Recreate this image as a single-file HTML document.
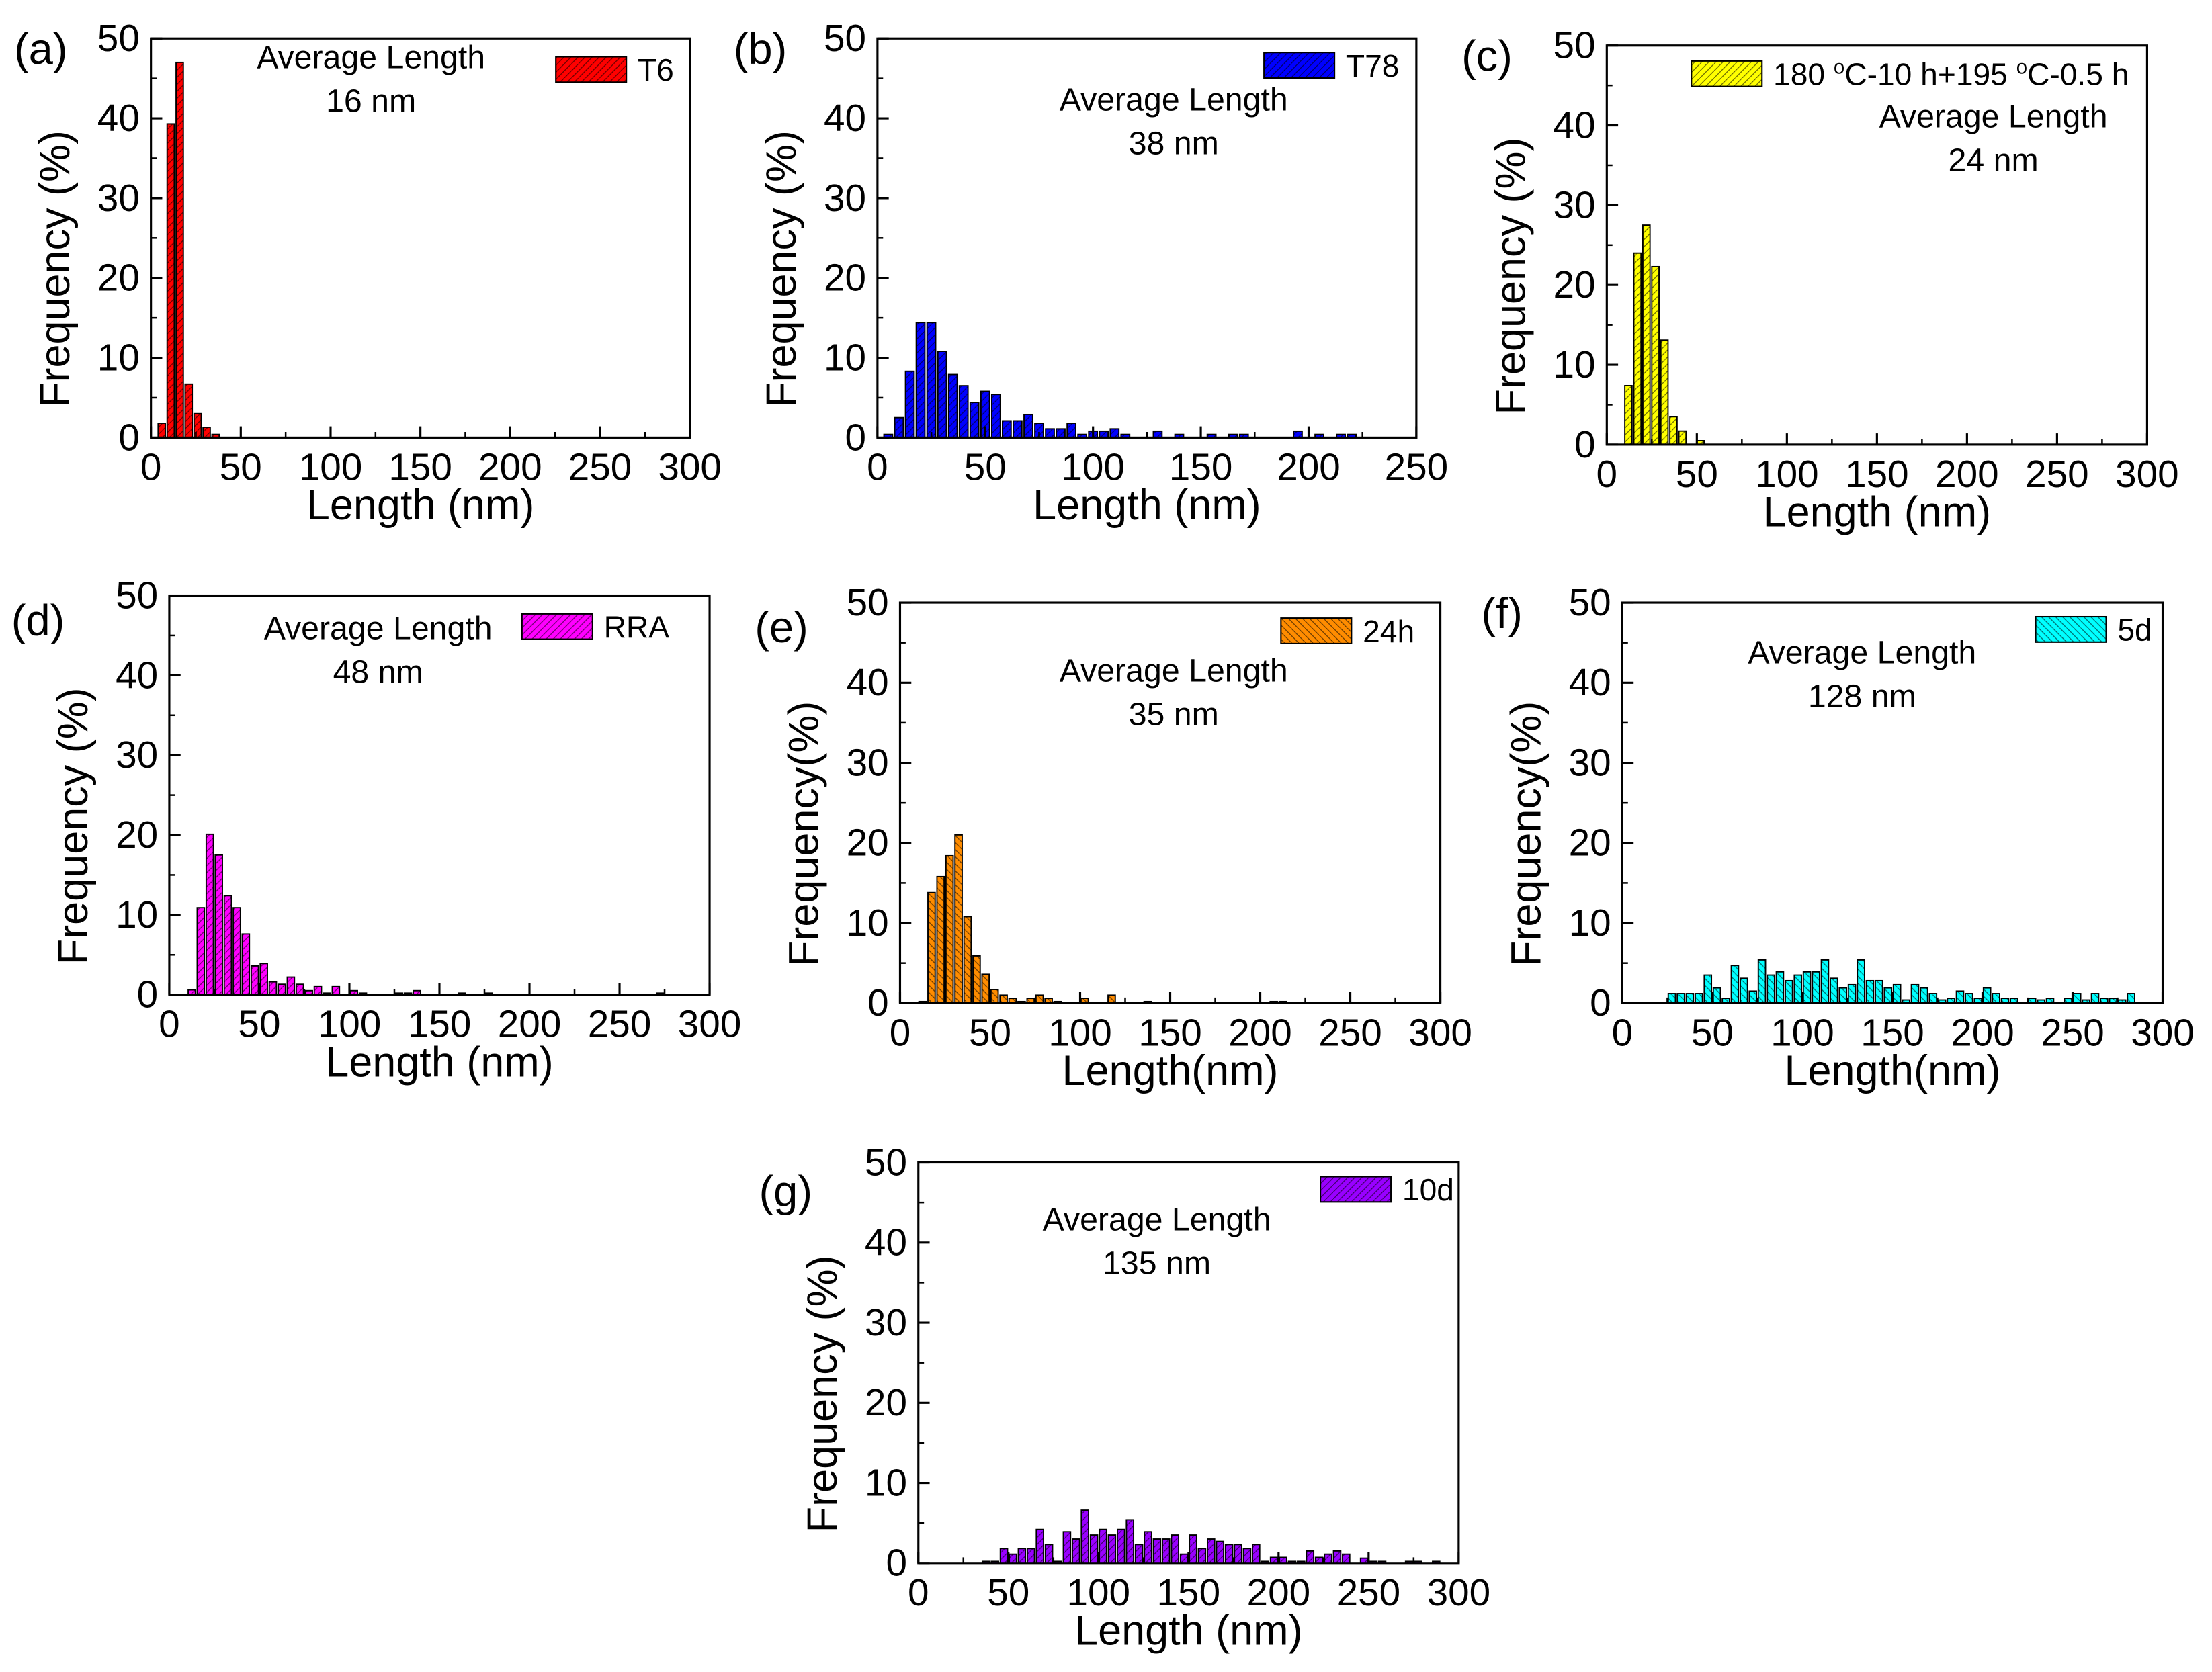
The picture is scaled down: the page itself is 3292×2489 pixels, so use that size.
<!DOCTYPE html>
<html><head><meta charset="utf-8"><title>Length distributions</title>
<style>
html,body{margin:0;padding:0;background:#fff;}
svg{display:block;}
text{font-family:"Liberation Sans",Arial,sans-serif;fill:#000;}
</style></head>
<body>
<svg id="fig" xmlns="http://www.w3.org/2000/svg" width="3292" height="2489" viewBox="0 0 1568 1185">
<defs>
<pattern id="hf" patternUnits="userSpaceOnUse" width="5" height="5"><path d="M-1,6 L6,-1" stroke="#000" stroke-width="0.6" opacity="0.6"/></pattern>
<pattern id="hb" patternUnits="userSpaceOnUse" width="5" height="5"><path d="M-1,-1 L6,6" stroke="#000" stroke-width="0.6" opacity="0.6"/></pattern>
</defs>
</svg>
<script>
// ---- data (bin centers in nm, frequencies in %) ----
const aLen=[6,11,16,21,26,31,36];
const aFreq=[1.8,39.3,47.0,6.7,3.0,1.3,0.4];
const bLen=[5,10,15,20,25,30,35,40,45,50,55,60,65,70,75,80,85,90,95,100,105,110,115,130,140,155,165,170,195,205,215,220];
const bFreq=[0.4,2.5,8.3,14.4,14.4,10.8,7.9,6.5,4.4,5.8,5.4,2.1,2.1,2.9,1.8,1.1,1.1,1.8,0.4,0.8,0.8,1.1,0.4,0.8,0.4,0.4,0.4,0.4,0.8,0.4,0.4,0.4];
const cLen=[12,17,22,27,32,37,42,52];
const cFreq=[7.4,24.0,27.5,22.3,13.1,3.5,1.7,0.5];
const dLen=[12.5,17.5,22.5,27.5,32.5,37.5,42.5,47.5,52.5,57.5,62.5,67.5,72.5,77.5,82.5,87.5,92.5,102.5,107.5,127.5,132.5,137.5,162.5,177.5,272.5];
const dFreq=[0.6,10.9,20.1,17.5,12.4,10.9,7.6,3.6,3.9,1.6,1.3,2.2,1.3,0.5,1.0,0.2,1.0,0.5,0.2,0.2,0.2,0.5,0.2,0.2,0.2];
const eLen=[12.5,17.5,22.5,27.5,32.5,37.5,42.5,47.5,52.5,57.5,62.5,67.5,72.5,77.5,82.5,87.5,102.5,117.5,137.5,207.5,212.5];
const eFreq=[0.2,13.8,15.8,18.4,21.0,10.8,5.9,3.6,1.7,1.0,0.6,0.2,0.6,1.0,0.6,0.2,0.6,1.0,0.2,0.2,0.2];
const fLen=[27.5,32.5,37.5,42.5,47.5,52.5,57.5,62.5,67.5,72.5,77.5,82.5,87.5,92.5,97.5,102.5,107.5,112.5,117.5,122.5,127.5,132.5,137.5,142.5,147.5,152.5,157.5,162.5,167.5,172.5,177.5,182.5,187.5,192.5,197.5,202.5,207.5,212.5,217.5,227.5,232.5,237.5,247.5,252.5,257.5,262.5,267.5,272.5,277.5,282.5];
const fFreq=[1.2,1.2,1.2,1.2,3.5,1.9,0.6,4.7,3.1,1.5,5.4,3.5,3.9,2.8,3.5,3.9,3.9,5.4,3.1,1.9,2.3,5.4,2.8,2.8,1.9,2.3,0.4,2.3,1.9,1.2,0.4,0.6,1.5,1.2,0.6,1.9,1.2,0.6,0.6,0.6,0.4,0.6,0.6,1.2,0.4,1.2,0.6,0.6,0.4,1.2];
const gLen=[37.5,42.5,47.5,52.5,57.5,62.5,67.5,72.5,77.5,82.5,87.5,92.5,97.5,102.5,107.5,112.5,117.5,122.5,127.5,132.5,137.5,142.5,147.5,152.5,157.5,162.5,167.5,172.5,177.5,182.5,187.5,192.5,197.5,202.5,207.5,212.5,217.5,222.5,227.5,232.5,237.5,247.5,252.5,257.5,272.5,277.5,287.5];
const gFreq=[0.2,0.2,1.8,1.1,1.8,1.8,4.2,2.3,0.2,3.9,3.0,6.6,3.5,4.2,3.5,4.2,5.4,2.3,3.9,3.0,3.0,3.5,1.1,3.5,1.8,3.0,2.7,2.3,2.3,1.8,2.3,0.2,0.7,0.7,0.2,0.2,1.5,0.7,1.1,1.5,1.1,0.6,0.2,0.2,0.2,0.2,0.2];
const ticks300=[0,50,100,150,200,250,300];
const ticks250=[0,50,100,150,200,250];
const yTicks=[0,10,20,30,40,50];

const NS="http://www.w3.org/2000/svg";
const svg=document.getElementById('fig');
function el(tag,attrs,parent,txt){const e=document.createElementNS(NS,tag);for(const k in attrs)e.setAttribute(k,attrs[k]);if(txt!==undefined)e.textContent=txt;(parent||svg).appendChild(e);return e;}

const panels=[
 {id:'a',L:107,T:27,W:382,H:283,xmax:300,xt:ticks300,len:aLen,freq:aFreq,col:'#ff0000',hatch:'hf',letter:[10,45],leg:[394,40],legText:'T6',avg:[263,48],avgVal:'16 nm',ylab:'Frequency (%)',xlab:'Length (nm)'},
 {id:'b',L:622,T:27,W:382,H:283,xmax:250,xt:ticks250,len:bLen,freq:bFreq,col:'#0000ff',hatch:'hf',letter:[520,45],leg:[896,37],legText:'T78',avg:[832,78],avgVal:'38 nm',ylab:'Frequency (%)',xlab:'Length (nm)'},
 {id:'c',L:1139,T:32,W:383,H:283,xmax:300,xt:ticks300,len:cLen,freq:cFreq,col:'#ffff00',hatch:'hf',letter:[1036,50],leg:[1199,43],legText:'c',avg:[1413,90],avgVal:'24 nm',ylab:'Frequency (%)',xlab:'Length (nm)'},
 {id:'d',L:120,T:422,W:383,H:283,xmax:300,xt:ticks300,len:dLen,freq:dFreq,col:'#ff00ff',hatch:'hf',letter:[8,450],leg:[370,435],legText:'RRA',avg:[268,453],avgVal:'48 nm',ylab:'Frequency (%)',xlab:'Length (nm)'},
 {id:'e',L:638,T:427,W:383,H:284,xmax:300,xt:ticks300,len:eLen,freq:eFreq,col:'#ff8c00',hatch:'hb',letter:[535,455],leg:[908,438],legText:'24h',avg:[832,483],avgVal:'35 nm',ylab:'Frequency(%)',xlab:'Length(nm)'},
 {id:'f',L:1150,T:427,W:383,H:284,xmax:300,xt:ticks300,len:fLen,freq:fFreq,col:'#00ffff',hatch:'hb',letter:[1050,445],leg:[1443,437],legText:'5d',avg:[1320,470],avgVal:'128 nm',ylab:'Frequency(%)',xlab:'Length(nm)'},
 {id:'g',L:651,T:824,W:383,H:284,xmax:300,xt:ticks300,len:gLen,freq:gFreq,col:'#9900ff',hatch:'hf',letter:[538,855],leg:[936,834],legText:'10d',avg:[820,872],avgVal:'135 nm',ylab:'Frequency (%)',xlab:'Length (nm)'}
];

panels.forEach(p=>{
 const g=el('g',{});
 
 
 const B=p.T+p.H;
 const xs=v=>p.L+v/p.xmax*p.W;
 const ys=v=>B-v/50*p.H;
 const bw=5/p.xmax*p.W*0.8;
 const bars=el('g',{},g);
 
 
 p.len.forEach((v,i)=>{
  const x=xs(v)-bw/2,y=ys(p.freq[i]),h=B-y;
  const r=el('rect',{x:x,y:y,width:bw,height:h,fill:p.col,stroke:'#000','stroke-width':0.9},bars);
  
  
  el('rect',{x:x,y:y,width:bw,height:h,fill:'url(#'+p.hatch+')'},bars);
 });
 const fr=el('rect',{x:p.L,y:p.T,width:p.W,height:p.H,fill:'none',stroke:'#000','stroke-width':1.5},g);
 
 
 const step=p.xt[1]-p.xt[0];
 p.xt.forEach((t,i)=>{
  const x=xs(t);
  el('line',{x1:x,y1:B,x2:x,y2:B-8,stroke:'#000','stroke-width':1.5},g);
  if(i<p.xt.length-1){const xm=xs(t+step/2);el('line',{x1:xm,y1:B,x2:xm,y2:B-4,stroke:'#000','stroke-width':1.2},g);}
  const tx=el('text',{x:x,y:B+30,'font-size':27,'text-anchor':'middle'},g,String(t));
  
  
 });
 yTicks.forEach((t,i)=>{
  const y=ys(t);
  el('line',{x1:p.L,y1:y,x2:p.L+8,y2:y,stroke:'#000','stroke-width':1.5},g);
  if(i<yTicks.length-1){const ym=ys(t+5);el('line',{x1:p.L,y1:ym,x2:p.L+4,y2:ym,stroke:'#000','stroke-width':1.2},g);}
  const ty=el('text',{x:p.L-8,y:y+9,'font-size':27,'text-anchor':'end'},g,String(t));
  
  
 });
 const xt=el('text',{x:p.L+p.W/2,y:B+58,'font-size':30,'text-anchor':'middle'},g,p.xlab);
 
 
 const cy=p.T+p.H/2+22;
 const yt=el('text',{x:p.L-58,y:cy,'font-size':30,'text-anchor':'middle',transform:'rotate(-90 '+(p.L-58)+' '+cy+')'},g,p.ylab);
 
 
 const lt=el('text',{x:p.letter[0],y:p.letter[1],'font-size':31},g,'('+p.id+')');
 
 
 const lg=el('g',{},g);
 
 
 el('rect',{x:p.leg[0],y:p.leg[1],width:50,height:18,fill:p.col,stroke:'#000','stroke-width':1},lg);
 el('rect',{x:p.leg[0],y:p.leg[1],width:50,height:18,fill:'url(#'+p.hatch+')'},lg);
 if(p.id==='c'){
  const t=el('text',{x:p.leg[0]+58,y:p.leg[1]+17,'font-size':22},lg);
  t.innerHTML='180 <tspan dy="-8" font-size="14">o</tspan><tspan dy="8">C-10 h+195 </tspan><tspan dy="-8" font-size="14">o</tspan><tspan dy="8">C-0.5 h</tspan>';
 } else {
  el('text',{x:p.leg[0]+58,y:p.leg[1]+17,'font-size':22},lg,p.legText);
 }
 const a1=el('text',{x:p.avg[0],y:p.avg[1],'font-size':23,'text-anchor':'middle'},g,'Average Length');
 
 
 const a2=el('text',{x:p.avg[0],y:p.avg[1]+31,'font-size':23,'text-anchor':'middle'},g,p.avgVal);
 
 
});
</script>
</body></html>
